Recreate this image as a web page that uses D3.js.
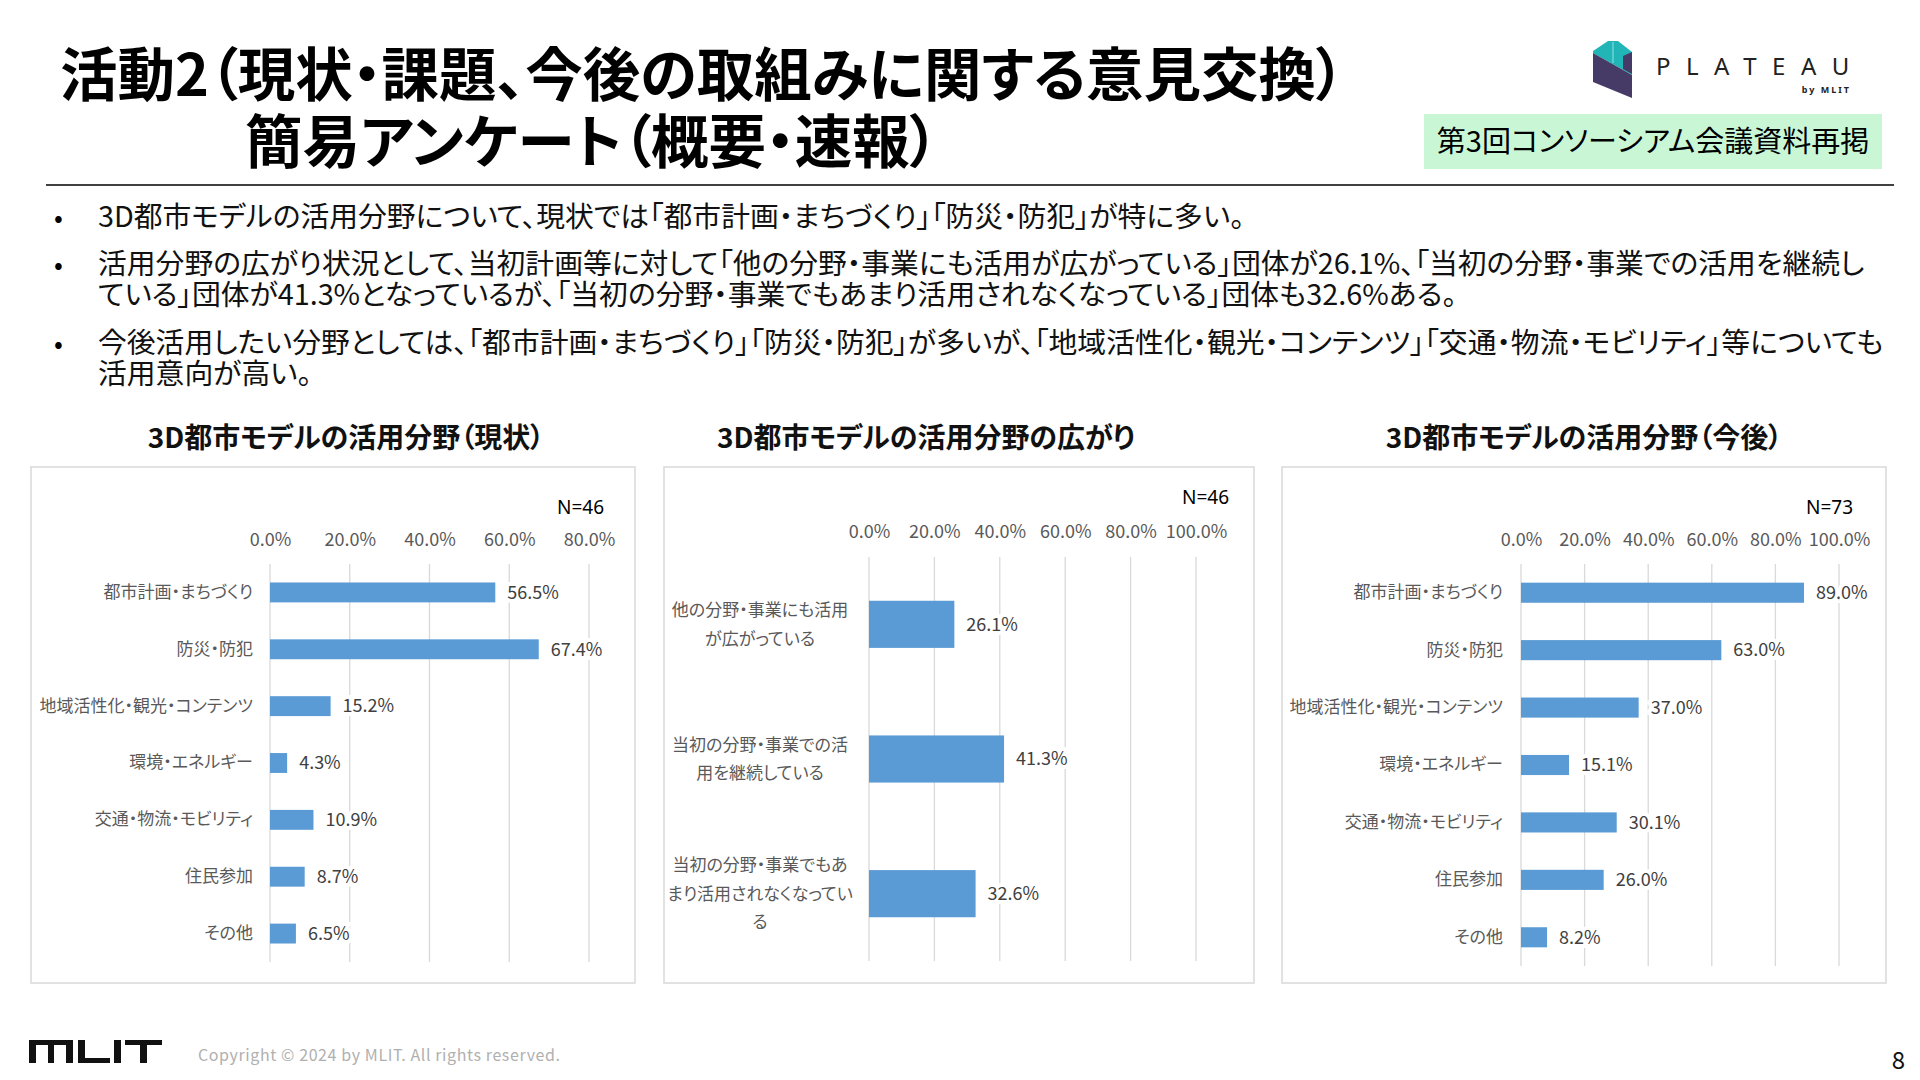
<!DOCTYPE html>
<html>
<head>
<meta charset="utf-8">
<script src="https://cdn.jsdelivr.net/npm/d3@7"></script>
<style>
  body { margin: 0; background: #fff; }
  svg text { font-family: "Noto Sans CJK JP", "Noto Sans", sans-serif; font-feature-settings: "palt"; }
</style>
</head>
<body>
<script>
// data
const fieldCats = ["都市計画・まちづくり", "防災・防犯", "地域活性化・観光・コンテンツ", "環境・エネルギー", "交通・物流・モビリティ", "住民参加", "その他"]
const nowValues = [56.5, 67.4, 15.2, 4.3, 10.9, 8.7, 6.5]
const futureValues = [89.0, 63.0, 37.0, 15.1, 30.1, 26.0, 8.2]
const spreadCats = [
    ["他の分野・事業にも活用", "が広がっている"],
    ["当初の分野・事業での活", "用を継続している"],
    ["当初の分野・事業でもあ", "まり活用されなくなってい", "る"]
]
const spreadValues = [26.1, 41.3, 32.6]
const ticks80 = [0, 20, 40, 60, 80]
const ticks100 = [0, 20, 40, 60, 80, 100]

const bullets = [
    ["3D都市モデルの活用分野について、現状では「都市計画・まちづくり」「防災・防犯」が特に多い。"],
    ["活用分野の広がり状況として、当初計画等に対して「他の分野・事業にも活用が広がっている」団体が26.1%、「当初の分野・事業での活用を継続し",
     "ている」団体が41.3%となっているが、「当初の分野・事業でもあまり活用されなくなっている」団体も32.6%ある。"],
    ["今後活用したい分野としては、「都市計画・まちづくり」「防災・防犯」が多いが、「地域活性化・観光・コンテンツ」「交通・物流・モビリティ」等についても",
     "活用意向が高い。"]
]

const barColor = "#5b9bd5"
const gridColor = "#d9d9d9"

let svg = d3.select("body")
    .append("svg")
    .attr("width", 1920)
    .attr("height", 1080)

svg.append("rect").attr("width", 1920).attr("height", 1080).attr("fill", "#fff")

// ---- header ----
svg.append("text")
    .attr("x", 60).attr("y", 96)
    .style("font-size", "57.5px").style("font-weight", "bold")
    .text("活動2（現状・課題、今後の取組みに関する意見交換）")

svg.append("text")
    .attr("x", 245).attr("y", 163)
    .style("font-size", "57.5px").style("font-weight", "bold")
    .text("簡易アンケート（概要・速報）")

svg.append("line")
    .attr("x1", 46).attr("x2", 1894)
    .attr("y1", 185).attr("y2", 185)
    .attr("stroke", "#000").attr("stroke-width", 1.5)

// green note box
svg.append("rect")
    .attr("x", 1424).attr("y", 114)
    .attr("width", 458).attr("height", 55)
    .attr("fill", "#c9f7d6")
svg.append("text")
    .attr("x", 1653).attr("y", 152)
    .attr("text-anchor", "middle")
    .style("font-size", "29px")
    .text("第3回コンソーシアム会議資料再掲")

// PLATEAU logo
svg.append("polygon")
    .attr("points", "1593,51 1608,41 1618,41 1632,52 1632,75 1593,53")
    .attr("fill", "#22b5b8")
svg.append("polygon")
    .attr("points", "1593,53 1632,75 1632,98 1593,82")
    .attr("fill", "#463a66")
svg.append("polygon")
    .attr("points", "1623,56 1632,52 1632,74 1623,69")
    .attr("fill", "#463a66")
svg.append("line")
    .attr("x1", 1613).attr("x2", 1613).attr("y1", 42).attr("y2", 63)
    .attr("stroke", "#8fe0e0").attr("stroke-width", 1)
svg.append("text")
    .attr("x", 1656).attr("y", 75)
    .style("font-family", "'Noto Sans', sans-serif")
    .style("font-size", "24px").style("letter-spacing", "15.5px")
    .attr("fill", "#222")
    .text("PLATEAU")
svg.append("text")
    .attr("x", 1851).attr("y", 93)
    .attr("text-anchor", "end")
    .style("font-family", "'Noto Sans', sans-serif")
    .style("font-size", "9px").style("font-weight", "bold").style("letter-spacing", "2px")
    .attr("fill", "#222")
    .text("by MLIT")

// ---- bullet text ----
let lineY = [[227], [274, 305], [353, 384]]
bullets.forEach(function (lines, i) {
    svg.append("text")
        .attr("x", 54).attr("y", lineY[i][0])
        .style("font-size", "26px")
        .text("•")
    lines.forEach(function (t, j) {
        svg.append("text")
            .attr("x", 98).attr("y", lineY[i][j])
            .style("font-size", "28.8px")
            .attr("fill", "#111")
            .text(t)
    })
})

// ---- charts ----
function drawChart(c) {
    // frame
    svg.append("rect")
        .attr("x", c.box[0]).attr("y", c.box[1])
        .attr("width", c.box[2] - c.box[0]).attr("height", c.box[3] - c.box[1])
        .attr("fill", "none").attr("stroke", gridColor).attr("stroke-width", 1.5)

    // chart title
    svg.append("text")
        .attr("x", c.titleX).attr("y", 448)
        .attr("text-anchor", "middle")
        .style("font-size", "28px").style("font-weight", "bold")
        .attr("fill", "#111")
        .text(c.title)

    let xScale = d3.scaleLinear()
        .domain([0, c.ticks[c.ticks.length - 1]])
        .range(c.xRange)

    let yScale = d3.scaleBand()
        .domain(d3.range(c.values.length))
        .range(c.yRange)
        .paddingInner(0.65)
        .paddingOuter(0.325)

    // gridlines
    svg.append("g")
        .selectAll("line")
        .data(c.ticks).enter()
        .append("line")
        .attr("x1", d => xScale(d)).attr("x2", d => xScale(d))
        .attr("y1", c.yRange[0]).attr("y2", c.yRange[1])
        .attr("stroke", gridColor).attr("stroke-width", 1.3)

    // top axis labels
    let xAxis = d3.axisTop(xScale)
        .tickValues(c.ticks)
        .tickFormat(d => d.toFixed(1) + "%")
        .tickSize(0)
        .tickPadding(0)
    let gx = svg.append("g")
        .attr("transform", `translate(0,${c.tickY})`)
        .call(xAxis)
    gx.select(".domain").remove()
    gx.selectAll("text")
        .style("font-family", "'Noto Sans CJK JP', sans-serif")
        .style("font-size", "18px")
        .attr("fill", "#595959")

    // N label
    svg.append("text")
        .attr("x", c.nPos[0]).attr("y", c.nPos[1])
        .attr("text-anchor", "end")
        .style("font-family", "'Noto Sans', sans-serif")
        .style("font-size", "19px")
        .attr("fill", "#000")
        .text(c.n)

    // bars
    svg.append("g")
        .selectAll("rect")
        .data(c.values).enter()
        .append("rect")
        .attr("x", xScale(0))
        .attr("y", (d, i) => yScale(i))
        .attr("width", d => xScale(d) - xScale(0))
        .attr("height", yScale.bandwidth())
        .attr("fill", barColor)

    // value labels (white halo hides the gridlines like the Excel label box)
    svg.append("g")
        .selectAll("text")
        .data(c.values).enter()
        .append("text")
        .attr("x", d => xScale(d) + 12)
        .attr("y", (d, i) => yScale(i) + yScale.bandwidth() / 2)
        .attr("dy", "0.35em")
        .style("font-size", "18px")
        .attr("fill", "#404040")
        .attr("stroke", "#fff").attr("stroke-width", 8)
        .style("paint-order", "stroke")
        .text(d => d.toFixed(1) + "%")

    // category labels
    if (c.multiline) {
        let g = svg.append("g")
        c.cats.forEach(function (lines, i) {
            let cy = yScale(i) + yScale.bandwidth() / 2
            let t = g.append("text")
                .attr("x", c.labelX)
                .attr("text-anchor", "middle")
                .style("font-size", "17px")
                .attr("fill", "#595959")
            lines.forEach(function (s, j) {
                t.append("tspan")
                    .attr("x", c.labelX)
                    .attr("y", cy + (j - (lines.length - 1) / 2) * 28.6)
                    .attr("dy", "0.35em")
                    .text(s)
            })
        })
    } else {
        let yAxis = d3.axisLeft(yScale)
            .tickFormat(i => c.cats[i])
            .tickSize(0)
            .tickPadding(xScale(0) - c.labelX)
        let gy = svg.append("g")
            .attr("transform", `translate(${xScale(0)},0)`)
            .call(yAxis)
        gy.select(".domain").remove()
        gy.selectAll("text")
            .style("font-family", "'Noto Sans CJK JP', sans-serif")
            .style("font-size", "17px")
            .attr("fill", "#595959")
    }
}

drawChart({
    title: "3D都市モデルの活用分野（現状）", titleX: 346,
    box: [31, 467, 635, 983],
    cats: fieldCats, values: nowValues, ticks: ticks80,
    xRange: [270, 589], yRange: [564, 962], tickY: 546,
    nPos: [604, 514], n: "N=46", labelX: 253
})

drawChart({
    title: "3D都市モデルの活用分野の広がり", titleX: 926,
    box: [664, 467, 1254, 983],
    cats: spreadCats, values: spreadValues, ticks: ticks100, multiline: true,
    xRange: [869, 1196], yRange: [557, 961], tickY: 538,
    nPos: [1229, 504], n: "N=46", labelX: 760
})

drawChart({
    title: "3D都市モデルの活用分野（今後）", titleX: 1584,
    box: [1282, 467, 1886, 983],
    cats: fieldCats, values: futureValues, ticks: ticks100,
    xRange: [1521, 1839], yRange: [564, 966], tickY: 546,
    nPos: [1853, 514], n: "N=73", labelX: 1503
})

// ---- footer ----
let logo = svg.append("g").attr("fill", "#111")
// M
logo.append("rect").attr("x", 29).attr("y", 1040).attr("width", 44).attr("height", 5)
logo.append("rect").attr("x", 29).attr("y", 1040).attr("width", 7).attr("height", 23)
logo.append("rect").attr("x", 48).attr("y", 1040).attr("width", 6).attr("height", 23)
logo.append("rect").attr("x", 66).attr("y", 1040).attr("width", 7).attr("height", 23)
// L
logo.append("rect").attr("x", 78).attr("y", 1040).attr("width", 7).attr("height", 23)
logo.append("rect").attr("x", 78).attr("y", 1058).attr("width", 32).attr("height", 5)
// I
logo.append("rect").attr("x", 114).attr("y", 1040).attr("width", 7).attr("height", 23)
// T
logo.append("rect").attr("x", 125).attr("y", 1040).attr("width", 37).attr("height", 5)
logo.append("rect").attr("x", 140).attr("y", 1040).attr("width", 7).attr("height", 23)

svg.append("text")
    .attr("x", 198).attr("y", 1061)
    .style("font-size", "16px").style("letter-spacing", "0.6px")
    .attr("fill", "#b0b0b0")
    .text("Copyright © 2024 by MLIT. All rights reserved.")

svg.append("text")
    .attr("x", 1905).attr("y", 1069)
    .attr("text-anchor", "end")
    .style("font-size", "24px")
    .attr("fill", "#111")
    .text("8")
</script>
</body>
</html>
